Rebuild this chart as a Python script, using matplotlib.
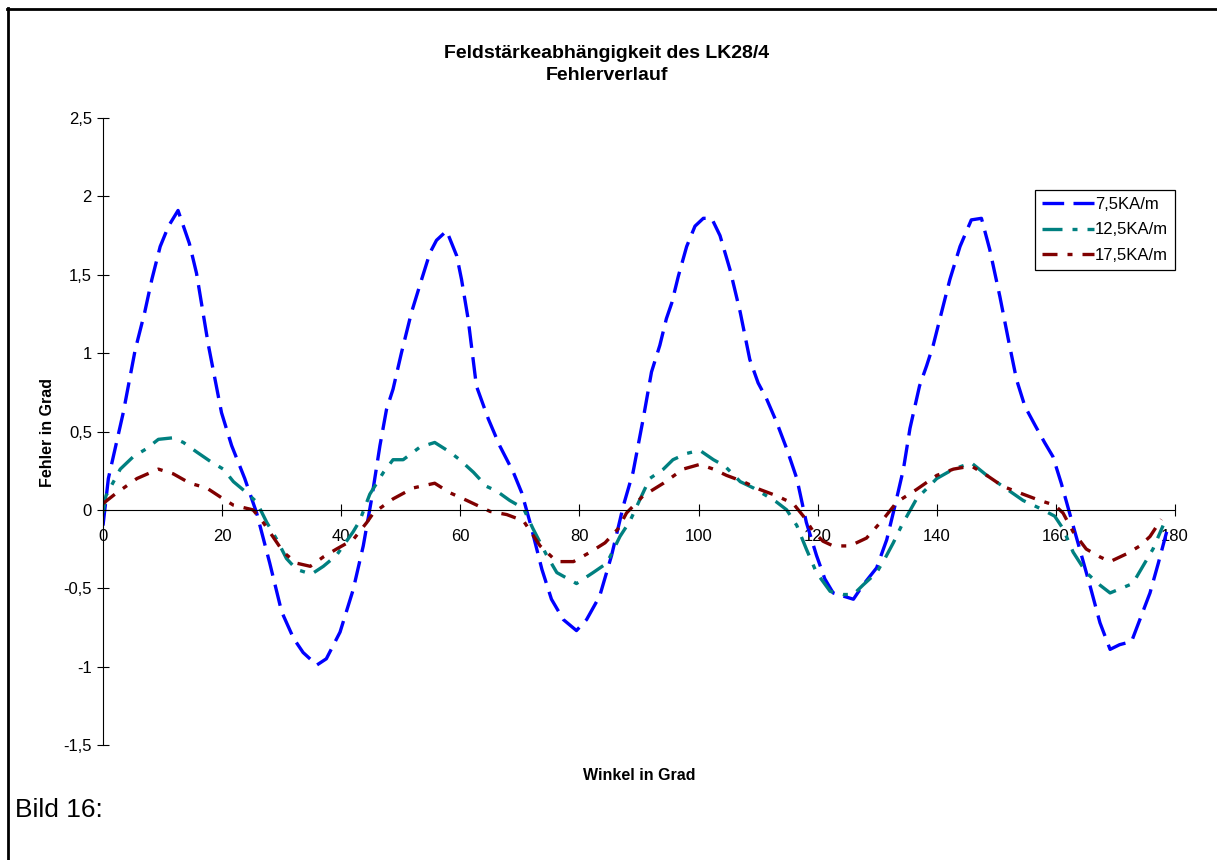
import matplotlib
matplotlib.use("Agg")
import matplotlib.pyplot as plt
from matplotlib.lines import Line2D

plt.rcParams['font.family'] = ['Liberation Sans', 'DejaVu Sans']

winkel_75 = [0, 0.9, 3.4, 5.4, 7.0, 8.2, 9.6, 11.0, 12.6, 14.5, 15.7, 17.7, 19.9, 21.6, 23.8,
             25.8, 28.0, 30.0, 32.0, 33.6, 35.9, 37.5, 39.8, 42.0, 43.7, 45.1, 46.5, 47.6,
             48.7, 50.1, 51.8, 53.5, 54.9, 56.0, 57.7, 59.4, 60.2, 61.3, 62.7, 64.7, 66.6,
             68.9, 70.3, 71.7, 73.7, 75.3, 77.3, 79.5, 81.2, 83.4, 85.4, 87.4, 89.0, 90.7,
             92.1, 93.5, 94.6, 95.5, 96.6, 98.0, 99.4, 100.8, 102.2, 103.6, 105.3, 107.0,
             108.6, 110.0, 111.4, 113.1, 114.8, 116.5, 118.1, 119.8, 121.2, 122.6, 124.3,
             126.0, 127.6, 129.9, 131.6, 133.0, 134.4, 135.5, 137.1, 138.3, 139.4, 140.8,
             142.2, 143.9, 145.8, 147.5, 148.9, 150.6, 152.0, 153.4, 154.8, 156.5, 158.1,
             159.5, 160.9, 162.3, 164.0, 165.7, 167.4, 169.1, 170.7, 172.7, 174.1, 175.8,
             177.2, 178.6]
fehler_75 = [-0.10, 0.20, 0.62, 1.02, 1.26, 1.47, 1.68, 1.81, 1.91, 1.70, 1.51, 1.05, 0.62, 0.41,
             0.20, -0.02, -0.34, -0.65, -0.82, -0.91, -0.99, -0.95, -0.78, -0.51, -0.23, 0.07,
             0.41, 0.64, 0.77, 1.00, 1.26, 1.47, 1.64, 1.72, 1.78, 1.62, 1.47, 1.22, 0.79,
             0.58, 0.41, 0.24, 0.11, -0.08, -0.38, -0.57, -0.70, -0.77, -0.70, -0.55, -0.29,
             0.03, 0.24, 0.58, 0.88, 1.05, 1.22, 1.32, 1.49, 1.68, 1.81, 1.86, 1.86, 1.75,
             1.53, 1.26, 0.96, 0.81, 0.71, 0.56, 0.39, 0.20, -0.08, -0.29, -0.44, -0.53,
             -0.55, -0.57, -0.48, -0.37, -0.19, 0.03, 0.26, 0.52, 0.79, 0.92, 1.05, 1.26,
             1.47, 1.68, 1.85, 1.86, 1.66, 1.36, 1.09, 0.83, 0.66, 0.54, 0.43, 0.34, 0.17,
             -0.02, -0.25, -0.48, -0.72, -0.89, -0.86, -0.84, -0.70, -0.53, -0.34, -0.14]

winkel_125 = [0, 0.5, 2.9, 5.1, 7.3, 9.3, 11.8, 13.5, 15.7, 18.0, 20.2, 21.9, 24.1, 25.8, 27.5,
              29.2, 30.8, 32.5, 35.0, 37.0, 39.2, 42.0, 43.1, 44.8, 47.1, 48.7, 50.4, 53.2,
              55.7, 58.2, 59.9, 62.2, 64.4, 66.1, 68.3, 70.6, 72.2, 74.5, 76.2, 79.5, 82.3,
              84.6, 86.8, 88.5, 90.2, 91.8, 94.1, 95.7, 98.0, 100.2, 102.5, 104.4, 107.0,
              109.2, 111.4, 113.1, 114.8, 116.5, 118.1, 119.8, 122.1, 124.3, 126.0, 127.6,
              129.9, 131.3, 132.7, 134.1, 136.6, 140.0, 142.8, 145.8, 148.4, 151.1, 154.5,
              157.3, 159.8, 161.2, 162.9, 165.1, 167.4, 169.1, 172.9, 174.6, 176.3, 178.0]
fehler_125 = [-0.02, 0.09, 0.26, 0.34, 0.39, 0.45, 0.46, 0.43, 0.37, 0.31, 0.26, 0.18, 0.11,
              0.05, -0.08, -0.19, -0.31, -0.38, -0.41, -0.36, -0.29, -0.14, -0.07, 0.10, 0.24,
              0.32, 0.32, 0.40, 0.43, 0.37, 0.32, 0.24, 0.15, 0.12, 0.06, 0.01, -0.12, -0.29,
              -0.40, -0.47, -0.40, -0.34, -0.17, -0.07, 0.07, 0.20, 0.26, 0.32, 0.36, 0.38,
              0.32, 0.28, 0.18, 0.14, 0.09, 0.05, 0.00, -0.10, -0.25, -0.40, -0.52, -0.54,
              -0.54, -0.48, -0.40, -0.31, -0.21, -0.10, 0.07, 0.20, 0.26, 0.30, 0.22, 0.15,
              0.06, 0.01, -0.04, -0.12, -0.27, -0.40, -0.48, -0.53, -0.47, -0.36, -0.25, -0.10]

winkel_175 = [0, 2.0, 5.7, 9.3, 11.8, 14.6, 17.4, 20.2, 21.9, 25.2, 26.9, 30.3, 32.5, 34.8,
              37.0, 39.2, 42.0, 44.3, 45.4, 48.7, 52.1, 55.7, 58.2, 61.1, 65.0, 67.8, 70.6,
              73.4, 76.2, 79.0, 81.8, 84.3, 86.5, 87.9, 90.7, 94.1, 97.4, 100.2, 102.5, 104.7,
              107.5, 110.3, 113.1, 115.9, 117.6, 119.3, 120.9, 122.6, 125.4, 128.2, 131.0,
              133.3, 136.6, 140.0, 142.8, 145.8, 148.4, 151.1, 154.5, 157.3, 159.8, 161.2,
              162.9, 165.1, 167.4, 169.1, 171.9, 174.1, 175.8, 177.7]
fehler_175 = [0.04, 0.10, 0.20, 0.26, 0.23, 0.17, 0.14, 0.07, 0.03, 0.00, -0.08, -0.27, -0.34,
              -0.36, -0.30, -0.25, -0.19, -0.08, -0.02, 0.07, 0.14, 0.17, 0.11, 0.06, -0.01,
              -0.03, -0.07, -0.23, -0.33, -0.33, -0.27, -0.21, -0.12, -0.02, 0.09, 0.17, 0.26,
              0.29, 0.26, 0.22, 0.18, 0.13, 0.09, 0.04, -0.04, -0.14, -0.20, -0.23, -0.23,
              -0.18, -0.06, 0.05, 0.13, 0.22, 0.26, 0.28, 0.22, 0.15, 0.10, 0.06, 0.03, -0.02,
              -0.14, -0.25, -0.30, -0.33, -0.28, -0.23, -0.17, -0.06]

x_ticks = [0, 20, 40, 60, 80, 100, 120, 140, 160, 180]
y_ticks = [-1.5, -1, -0.5, 0, 0.5, 1, 1.5, 2, 2.5]
labels = ['7,5KA/m', '12,5KA/m', '17,5KA/m']


def komma(v):
    return f"{v:g}".replace('.', ',')


W, H = 1217, 860
fig = plt.figure(figsize=(W / 100, H / 100), dpi=100)
ax = fig.add_axes([103 / W, 1 - 745 / H, (1175 - 103) / W, (745 - 118) / H])

ax.plot(winkel_75, fehler_75, color='#0000FF', lw=2.4, dashes=(6.5, 2.8), label=labels[0])
ax.plot(winkel_125, fehler_125, color='#008080', lw=2.4, dashes=(6, 3, 1.5, 3), label=labels[1])
ax.plot(winkel_175, fehler_175, color='#800000', lw=2.4, dashes=(4.5, 3, 1.5, 3), label=labels[2])

ax.set_xlim(0, 180)
ax.set_ylim(-1.5, 2.5)
ax.spines['top'].set_visible(False)
ax.spines['right'].set_visible(False)
ax.spines['bottom'].set_position(('data', 0))
for s in ('left', 'bottom'):
    ax.spines[s].set_linewidth(0.8)

ax.set_xticks(x_ticks)
ax.set_xticklabels([komma(v) for v in x_ticks])
ax.set_yticks(y_ticks)
ax.set_yticklabels([komma(v) for v in y_ticks])
ax.tick_params(direction='inout', length=8, width=0.8, labelsize=12)
ax.tick_params(axis='x', pad=10)
ax.tick_params(axis='y', pad=4)

leg = ax.legend(loc='upper right', bbox_to_anchor=(1175 / W, 1 - 190 / H),
                bbox_transform=fig.transFigure, borderaxespad=0, fontsize=12,
                handlelength=3.1, handletextpad=0.1, labelspacing=0.65,
                borderpad=0.4, fancybox=False, framealpha=1)
leg.get_frame().set_edgecolor('black')
leg.get_frame().set_linewidth(0.9)

fig.text(607 / W, 1 - 54 / H, 'Feldstärkeabhängigkeit des LK28/4', ha='center', va='center',
         fontsize=14, fontweight='bold')
fig.text(607 / W, 1 - 76 / H, 'Fehlerverlauf', ha='center', va='center',
         fontsize=14, fontweight='bold')
fig.text(639 / W, 1 - 776 / H, 'Winkel in Grad', ha='center', va='center',
         fontsize=11.5, fontweight='bold')
fig.text(48 / W, 1 - 432 / H, 'Fehler in Grad', ha='center', va='center', rotation=90,
         fontsize=11.5, fontweight='bold')
fig.text(15 / W, 1 - 810 / H, 'Bild 16:', ha='left', va='center', fontsize=19)

# Rahmen oben und links
fig.add_artist(Line2D([7 / W, 1], [1 - 9 / H, 1 - 9 / H], transform=fig.transFigure,
                      color='black', lw=2))
fig.add_artist(Line2D([8 / W, 8 / W], [0, 1 - 8 / H], transform=fig.transFigure,
                      color='black', lw=2))

fig.savefig('out.png', dpi=100)
